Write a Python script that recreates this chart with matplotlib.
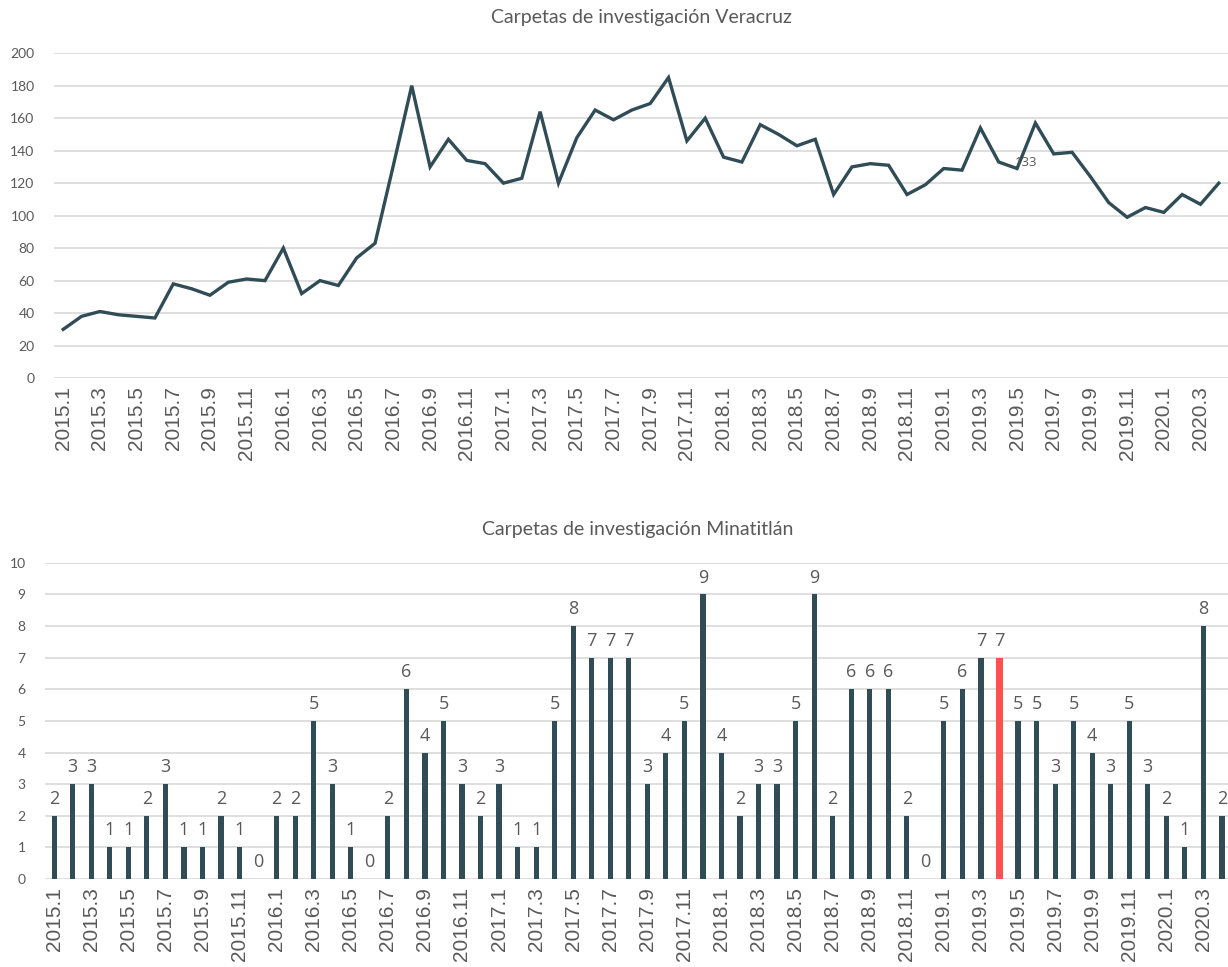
import numpy as np
import matplotlib.pyplot as plt

# months 2015.1 .. 2020.4
months = [f"{y}.{m}" for y in range(2015, 2021) for m in range(1, 13)][:64]

veracruz = [30, 38, 41, 39, 38, 37, 58, 55, 51, 59, 61, 60,
            80, 52, 60, 57, 74, 83, 131, 180, 130, 147, 134, 132,
            120, 123, 164, 120, 148, 165, 159, 165, 169, 185, 146, 160,
            136, 133, 156, 150, 143, 147, 113, 130, 132, 131, 113, 119,
            129, 128, 154, 133, 129, 157, 138, 139, 124, 108, 99, 105,
            102, 113, 107, 120]

minatitlan = [2, 3, 3, 1, 1, 2, 3, 1, 1, 2, 1, 0,
              2, 2, 5, 3, 1, 0, 2, 6, 4, 5, 3, 2,
              3, 1, 1, 5, 8, 7, 7, 7, 3, 4, 5, 9,
              4, 2, 3, 3, 5, 9, 2, 6, 6, 6, 2, 0,
              5, 6, 7, 7, 5, 5, 3, 5, 4, 3, 5, 3,
              2, 1, 8, 2]

highlight = "2019.4"
label_month = "2019.4"  # the single data label in the line chart

dark = "#304C57"
red = "#FF5050"
grey = "#595959"
grid = "#D9D9D9"

fig = plt.figure(figsize=(12.28, 9.67), dpi=100)
x = np.arange(len(months))

# ---- top: line chart
ax1 = fig.add_axes([0.044, 0.609, 0.956, 0.336])
ax1.plot(x, veracruz, color=dark, lw=2.4, solid_joinstyle="miter")
ax1.set_xlim(-0.5, len(months) - 0.5)
ax1.set_ylim(0, 200)
ax1.set_yticks(range(0, 201, 20))
ax1.set_xticks(x[::2])
ax1.set_xticklabels(months[::2], rotation=90, fontsize=15, color=grey,
                    family="Liberation Sans")
i = months.index(label_month)
ax1.annotate(str(veracruz[i]), xy=(i, veracruz[i]), xytext=(20, 0),
             textcoords="offset points", ha="center", va="center",
             fontsize=9.5, color=grey, family="Open Sans")
ax1.set_title("Carpetas de investigación Veracruz", fontsize=14, color=grey,
              family="Lato", pad=22)

# ---- bottom: bars
ax2 = fig.add_axes([0.0366, 0.091, 0.966, 0.327])
colors = [red if m == highlight else dark for m in months]
widths = [0.36 if m == highlight else 0.28 for m in months]
bars = ax2.bar(x, minatitlan, width=widths, color=colors, zorder=3)
for xi, v in zip(x, minatitlan):
    ax2.text(xi, v + 0.25, str(v), ha="center", va="bottom", fontsize=13,
             color=grey, family="Open Sans")
ax2.set_xlim(-0.5, len(months) - 0.5)
ax2.set_ylim(0, 10)
ax2.set_yticks(range(0, 11))
ax2.set_xticks(x[::2])
ax2.set_xticklabels(months[::2], rotation=90, fontsize=15, color=grey,
                    family="Liberation Sans")
ax2.set_title("Carpetas de investigación Minatitlán", fontsize=14, color=grey,
              family="Lato", pad=20)

for ax in (ax1, ax2):
    for s in ax.spines.values():
        s.set_visible(False)
    ax.grid(axis="y", color=grid, lw=1.2, zorder=0)
    ax.set_axisbelow(True)
    ax.tick_params(axis="both", length=0)
    ax.tick_params(axis="y", labelsize=10, labelcolor=grey, pad=14)
    for t in ax.get_yticklabels():
        t.set_family("Lato")
    ax.tick_params(axis="x", pad=6)

fig.savefig("out.png", dpi=100)
